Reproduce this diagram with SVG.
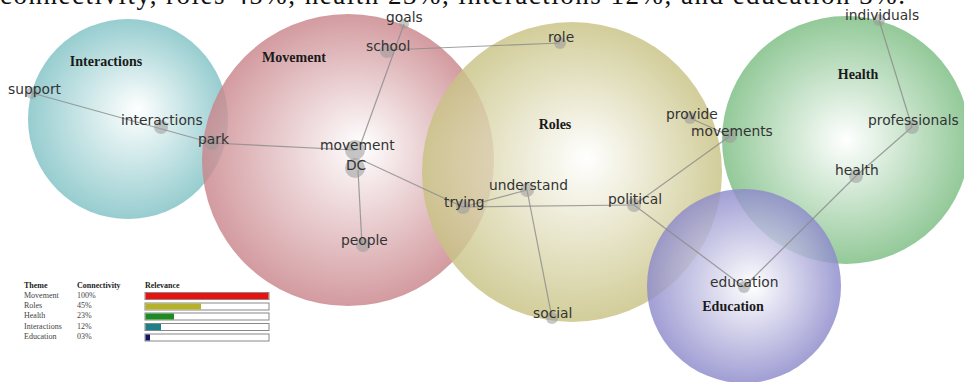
<svg xmlns="http://www.w3.org/2000/svg" width="964" height="382" viewBox="0 0 964 382">
<defs>
<radialGradient id="gTeal" cx="0.5" cy="0.5" r="0.5" fx="0.55" fy="0.45"><stop offset="0" stop-color="#ffffff"/><stop offset="1" stop-color="#80c2c5"/></radialGradient>
<radialGradient id="gPink" cx="0.5" cy="0.5" r="0.5" fx="0.55" fy="0.45"><stop offset="0" stop-color="#ffffff"/><stop offset="1" stop-color="#c9858b"/></radialGradient>
<radialGradient id="gOlive" cx="0.5" cy="0.5" r="0.5" fx="0.55" fy="0.45"><stop offset="0" stop-color="#ffffff"/><stop offset="1" stop-color="#c8c283"/></radialGradient>
<radialGradient id="gGreen" cx="0.5" cy="0.5" r="0.5" fx="0.5" fy="0.5"><stop offset="0" stop-color="#ffffff"/><stop offset="1" stop-color="#7bbd82"/></radialGradient>
<radialGradient id="gBlue" cx="0.5" cy="0.5" r="0.5" fx="0.55" fy="0.5"><stop offset="0" stop-color="#ffffff"/><stop offset="1" stop-color="#8c89ca"/></radialGradient>
</defs>
<style>
.bub{fill-opacity:0.82}
.theme{font-family:"Liberation Serif",serif;font-weight:bold;font-size:14px;fill:#1a1a1a;text-anchor:middle}
.lbl{font-family:"DejaVu Sans",sans-serif;font-size:13.8px;fill:#333}
.dot{fill:#999;fill-opacity:0.55}
.edge{stroke:#8a8a8a;stroke-width:1.2;fill:none;stroke-opacity:0.8}
.lg{font-family:"Liberation Serif",serif;font-size:8px;fill:#444}
.lgh{font-family:"Liberation Serif",serif;font-size:8px;font-weight:bold;fill:#222}
.bar{fill:#fff;stroke:#888;stroke-width:1}
.top{font-family:"Liberation Serif",serif;font-size:27px;fill:#111}
</style>
<rect width="964" height="382" fill="#fff"/>
<text class="top" x="0" y="4" textLength="905" lengthAdjust="spacing">connectivity, roles 45%, health 23%, interactions 12%, and education 3%.</text>

<g id="bubbles">
<circle id="bubble-interactions" class="bub" cx="128" cy="119" r="100" fill="url(#gTeal)"/>
<circle id="bubble-movement" class="bub" cx="348" cy="160" r="146" fill="url(#gPink)"/>
<circle id="bubble-roles" class="bub" cx="572" cy="172" r="150" fill="url(#gOlive)"/>
<circle id="bubble-health" class="bub" cx="846" cy="140" r="124" fill="url(#gGreen)"/>
<circle id="bubble-education" class="bub" cx="744" cy="286" r="97" fill="url(#gBlue)"/>
</g>

<g id="themes">
<text class="theme" x="106" y="66">Interactions</text>
<text class="theme" x="294" y="62">Movement</text>
<text class="theme" x="555" y="129">Roles</text>
<text class="theme" x="858" y="79">Health</text>
<text class="theme" x="733" y="311">Education</text>
</g>

<g id="connectors">
<line class="edge" x1="32" y1="93" x2="212" y2="143"/>
<line class="edge" x1="212" y1="143" x2="355" y2="150"/>
<line class="edge" x1="404" y1="24" x2="360" y2="146"/>
<line class="edge" x1="387" y1="50" x2="560" y2="43"/>
<line class="edge" x1="362" y1="160" x2="463" y2="207"/>
<line class="edge" x1="358" y1="170" x2="362" y2="245"/>
<line class="edge" x1="463" y1="207" x2="527" y2="190"/>
<line class="edge" x1="463" y1="207" x2="634" y2="205"/>
<line class="edge" x1="527" y1="190" x2="552" y2="318"/>
<line class="edge" x1="634" y1="205" x2="730" y2="136"/>
<line class="edge" x1="690" y1="118" x2="730" y2="136"/>
<line class="edge" x1="634" y1="205" x2="744" y2="287"/>
<line class="edge" x1="744" y1="287" x2="856" y2="176"/>
<line class="edge" x1="856" y1="176" x2="912" y2="127"/>
<line class="edge" x1="912" y1="127" x2="879" y2="20"/>
</g>

<g id="node-support"><circle class="dot" cx="32" cy="93" r="6"/><text class="lbl" x="8" y="94">support</text></g>
<g id="node-interactions"><circle class="dot" cx="161" cy="127" r="7"/><text class="lbl" x="121" y="125">interactions</text></g>
<g id="node-park"><circle class="dot" cx="212" cy="143" r="7"/><text class="lbl" x="198" y="144">park</text></g>
<g id="node-movement"><circle class="dot" cx="355" cy="150" r="10"/><text class="lbl" x="320" y="150">movement</text></g>
<g id="node-dc"><circle class="dot" cx="355" cy="168" r="10"/><text class="lbl" x="346" y="170">DC</text></g>
<g id="node-goals"><circle class="dot" cx="404" cy="24" r="5"/><text class="lbl" x="386" y="22">goals</text></g>
<g id="node-school"><circle class="dot" cx="387" cy="51" r="7"/><text class="lbl" x="366" y="51">school</text></g>
<g id="node-people"><circle class="dot" cx="363" cy="245" r="7"/><text class="lbl" x="341" y="245">people</text></g>
<g id="node-role"><circle class="dot" cx="560" cy="43" r="6"/><text class="lbl" x="548" y="42">role</text></g>
<g id="node-trying"><circle class="dot" cx="463" cy="207" r="7"/><text class="lbl" x="444" y="207">trying</text></g>
<g id="node-understand"><circle class="dot" cx="527" cy="190" r="7"/><text class="lbl" x="489" y="190">understand</text></g>
<g id="node-political"><circle class="dot" cx="634" cy="205" r="7"/><text class="lbl" x="608" y="204">political</text></g>
<g id="node-social"><circle class="dot" cx="552" cy="318" r="6"/><text class="lbl" x="533" y="318">social</text></g>
<g id="node-provide"><circle class="dot" cx="690" cy="118" r="6"/><text class="lbl" x="666" y="119">provide</text></g>
<g id="node-movements"><circle class="dot" cx="730" cy="136" r="7"/><text class="lbl" x="691" y="136">movements</text></g>
<g id="node-individuals"><circle class="dot" cx="879" cy="20" r="6"/><text class="lbl" x="845" y="20">individuals</text></g>
<g id="node-professionals"><circle class="dot" cx="912" cy="127" r="7"/><text class="lbl" x="868" y="125">professionals</text></g>
<g id="node-health"><circle class="dot" cx="856" cy="176" r="7"/><text class="lbl" x="835" y="175">health</text></g>
<g id="node-education"><circle class="dot" cx="744" cy="287" r="6"/><text class="lbl" x="710" y="287">education</text></g>

<g id="legend">
<text class="lgh" x="24" y="288">Theme</text>
<text class="lgh" x="77" y="288">Connectivity</text>
<text class="lgh" x="145" y="288">Relevance</text>
<text class="lg" x="24" y="298">Movement</text><text class="lg" x="77" y="298">100%</text>
<rect class="bar" x="145" y="292.5" width="124" height="7"/><rect x="145.5" y="293" width="123" height="6" fill="#e8120f"/>
<text class="lg" x="24" y="308">Roles</text><text class="lg" x="77" y="308">45%</text>
<rect class="bar" x="145" y="303" width="124" height="7"/><rect x="145.5" y="303.5" width="55.5" height="6" fill="#b6b12a"/>
<text class="lg" x="24" y="318">Health</text><text class="lg" x="77" y="318">23%</text>
<rect class="bar" x="145" y="313" width="124" height="7"/><rect x="145.5" y="313.5" width="28.5" height="6" fill="#1e8a22"/>
<text class="lg" x="24" y="329">Interactions</text><text class="lg" x="77" y="329">12%</text>
<rect class="bar" x="145" y="323.5" width="124" height="7"/><rect x="145.5" y="324" width="15.5" height="6" fill="#1f7f86"/>
<text class="lg" x="24" y="339">Education</text><text class="lg" x="77" y="339">03%</text>
<rect class="bar" x="145" y="334" width="124" height="7"/><rect x="145.5" y="334.5" width="4.5" height="6" fill="#141466"/>
</g>
</svg>
